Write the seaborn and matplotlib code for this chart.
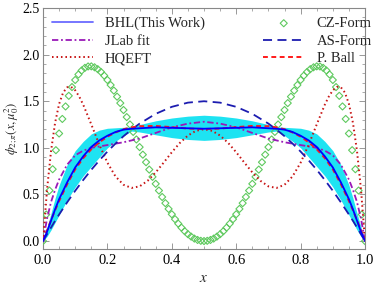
import matplotlib
matplotlib.use("Agg")
import matplotlib.pyplot as plt
import seaborn as sns
import numpy as np
from matplotlib.ticker import MultipleLocator

# ---------------- data ----------------
X_LINE = [0, 0.0125, 0.025, 0.0375, 0.05, 0.075, 0.1, 0.125, 0.15, 0.175, 0.2, 0.225, 0.25, 0.275, 0.3,
          0.35, 0.4, 0.45, 0.5, 0.55, 0.6, 0.65, 0.7, 0.725, 0.75, 0.775, 0.8, 0.825, 0.85, 0.875, 0.9,
          0.925, 0.95, 0.9625, 0.975, 0.9875, 1.0]

BHL = [0, 0.10, 0.22, 0.34, 0.45, 0.63, 0.79, 0.91, 1.01, 1.08, 1.13, 1.17, 1.195, 1.205, 1.21, 1.22, 1.215, 1.21, 1.205,
       1.21, 1.215, 1.22, 1.21, 1.205, 1.195, 1.17, 1.13, 1.08, 1.01, 0.91, 0.79, 0.63, 0.45, 0.34, 0.22, 0.10, 0]
BHL_UP = [0, 0.15, 0.30, 0.46, 0.60, 0.82, 0.97, 1.07, 1.15, 1.19, 1.21, 1.215, 1.22, 1.225, 1.25, 1.29, 1.32, 1.34, 1.35,
          1.34, 1.32, 1.29, 1.25, 1.225, 1.22, 1.215, 1.21, 1.19, 1.15, 1.07, 0.97, 0.82, 0.60, 0.46, 0.30, 0.15, 0]
BHL_LO = [0, 0.05, 0.12, 0.20, 0.28, 0.44, 0.58, 0.70, 0.80, 0.90, 1.00, 1.07, 1.13, 1.18, 1.17, 1.14, 1.11, 1.09, 1.08,
          1.09, 1.11, 1.14, 1.17, 1.18, 1.13, 1.07, 1.00, 0.90, 0.80, 0.70, 0.58, 0.44, 0.28, 0.20, 0.12, 0.05, 0]
JLAB = [0, 0.24, 0.42, 0.55, 0.66, 0.82, 0.92, 0.97, 1.0, 1.015, 1.03, 1.045, 1.06, 1.08, 1.10, 1.16, 1.22, 1.26, 1.28,
        1.26, 1.22, 1.16, 1.10, 1.08, 1.06, 1.045, 1.03, 1.015, 1.0, 0.97, 0.92, 0.82, 0.66, 0.55, 0.42, 0.24, 0]
AS = [0, 0.074, 0.146, 0.217, 0.285, 0.416, 0.54, 0.656, 0.765, 0.866, 0.96, 1.046, 1.125, 1.196, 1.26, 1.365, 1.44, 1.485, 1.5,
      1.485, 1.44, 1.365, 1.26, 1.196, 1.125, 1.046, 0.96, 0.866, 0.765, 0.656, 0.54, 0.416, 0.285, 0.217, 0.146, 0.074, 0]
PBALL = [0, 0.115, 0.225, 0.33, 0.43, 0.61, 0.77, 0.89, 0.985, 1.06, 1.12, 1.165, 1.20, 1.22, 1.232, 1.235, 1.222, 1.207, 1.202,
         1.207, 1.222, 1.235, 1.232, 1.22, 1.20, 1.165, 1.12, 1.06, 0.985, 0.89, 0.77, 0.61, 0.43, 0.33, 0.225, 0.115, 0]

X_HQ = [0, 0.0125, 0.025, 0.0375, 0.05, 0.0625, 0.075, 0.0875, 0.1, 0.1125, 0.125, 0.15, 0.175, 0.2, 0.225, 0.25,
        0.275, 0.3, 0.325, 0.35, 0.375, 0.4, 0.425, 0.45, 0.475, 0.5, 0.525, 0.55, 0.575, 0.6, 0.625, 0.65, 0.675,
        0.7, 0.725, 0.75, 0.775, 0.8, 0.825, 0.85, 0.875, 0.8875, 0.9, 0.9125, 0.925, 0.9375, 0.95, 0.9625, 0.975,
        0.9875, 1.0]
HQEFT = [0, 0.552, 0.968, 1.268, 1.471, 1.593, 1.650, 1.654, 1.617, 1.550, 1.462, 1.251, 1.033, 0.841, 0.694, 0.604,
         0.570, 0.587, 0.647, 0.737, 0.843, 0.953, 1.053, 1.132, 1.183, 1.200,
         1.183, 1.132, 1.053, 0.953, 0.843, 0.737, 0.647, 0.587, 0.570, 0.604, 0.694, 0.841, 1.033, 1.251, 1.462,
         1.550, 1.617, 1.654, 1.650, 1.593, 1.471, 1.268, 0.968, 0.552, 0]

X_CZ = [round(0.01 * i, 2) for i in range(101)]
CZ_LEFT = [0, 0.285, 0.542, 0.771, 0.975, 1.154, 1.310, 1.444, 1.558, 1.652, 1.728, 1.787, 1.830, 1.858, 1.873,
           1.874, 1.864, 1.844, 1.814, 1.775, 1.728, 1.674, 1.614, 1.549, 1.480, 1.406, 1.330, 1.251, 1.171, 1.090,
           1.008, 0.927, 0.846, 0.767, 0.689, 0.614, 0.542, 0.473, 0.407, 0.345, 0.288, 0.235, 0.187, 0.144, 0.106,
           0.074, 0.048, 0.027, 0.012, 0.003, 0]
CZ_RIGHT = [0.003, 0.012, 0.027, 0.048, 0.074, 0.106, 0.144, 0.187, 0.235, 0.288, 0.345, 0.407, 0.473, 0.542, 0.614,
            0.689, 0.767, 0.846, 0.927, 1.008, 1.090, 1.171, 1.251, 1.330, 1.406, 1.480, 1.549, 1.614, 1.674, 1.728,
            1.775, 1.814, 1.844, 1.864, 1.874, 1.873, 1.858, 1.830, 1.787, 1.728, 1.652, 1.558, 1.444, 1.310, 1.154,
            0.975, 0.771, 0.542, 0.285, 0]
CZ = CZ_LEFT + CZ_RIGHT

# ---------------- style ----------------
sns.set_theme(style="ticks")
plt.rcParams["font.family"] = ["Liberation Serif", "DejaVu Serif"]
plt.rcParams["mathtext.fontset"] = "stix"

fig = plt.figure(figsize=(3.74, 2.91), dpi=100)
ax = fig.add_axes([0.115, 0.1443, 0.861, 0.8282])

ax.fill_between(X_LINE, BHL_LO, BHL_UP, color="#1ee3f2", lw=0, zorder=1)

sns.lineplot(x=X_LINE, y=BHL, ax=ax, color="#0000ff", lw=1.3, label="BHL(This Work)", zorder=5)
sns.lineplot(x=X_LINE, y=JLAB, ax=ax, color="#9a19b8", lw=1.3, linestyle=(0, (3.5, 1.5, 1, 1.5)),
             label="JLab fit", zorder=4)
sns.lineplot(x=X_HQ, y=HQEFT, ax=ax, color="#c81414", lw=1.4, linestyle=(0, (0.8, 1.5)),
             label="HQEFT", zorder=4)
sns.scatterplot(x=X_CZ, y=CZ, ax=ax, marker="D", s=13, facecolor="none", edgecolor="#5ec95e",
                linewidth=0.8, label="CZ-Form", zorder=3)
sns.lineplot(x=X_LINE, y=AS, ax=ax, color="#1c1cb0", lw=1.3, linestyle=(0, (5, 3)),
             label="AS-Form", zorder=4)
sns.lineplot(x=X_LINE, y=PBALL, ax=ax, color="#ff1a1a", lw=1.4, linestyle=(0, (2.5, 1.8)),
             label="P. Ball", zorder=4)

ax.set_xlim(0, 1)
ax.set_ylim(-0.085, 2.5)
ax.xaxis.set_major_locator(MultipleLocator(0.2))
ax.xaxis.set_minor_locator(MultipleLocator(0.05))
ax.yaxis.set_major_locator(MultipleLocator(0.5))
ax.yaxis.set_minor_locator(MultipleLocator(0.1))
ax.tick_params(which="both", direction="in", top=True, right=True, colors="#888888",
               labelcolor="black", labelsize=10.5)
ax.tick_params(axis="y", pad=2.5, labelsize=10)
ax.tick_params(which="major", length=4, width=0.6)
ax.tick_params(which="minor", length=2, width=0.5)
for s in ax.spines.values():
    s.set_color("#888888")
    s.set_linewidth(0.8)

ax.set_xlabel(r"$x$", fontsize=11, labelpad=4)
ax.set_ylabel(r"$\phi_{2;\pi}(x,\mu_0^2)$", fontsize=9)
ax.yaxis.set_label_coords(-0.068, 0.5)

leg = ax.legend(loc="upper left", bbox_to_anchor=(0.0, 1.0), ncol=2, frameon=False, fontsize=10.5,
                handlelength=2.8, handletextpad=0.85, columnspacing=4.0, labelspacing=0.3,
                borderaxespad=0.3, borderpad=0.3, markerscale=1.0)
leg.legend_handles[0].set_color("#6b6bff")

fig.savefig("out.png", dpi=100)
